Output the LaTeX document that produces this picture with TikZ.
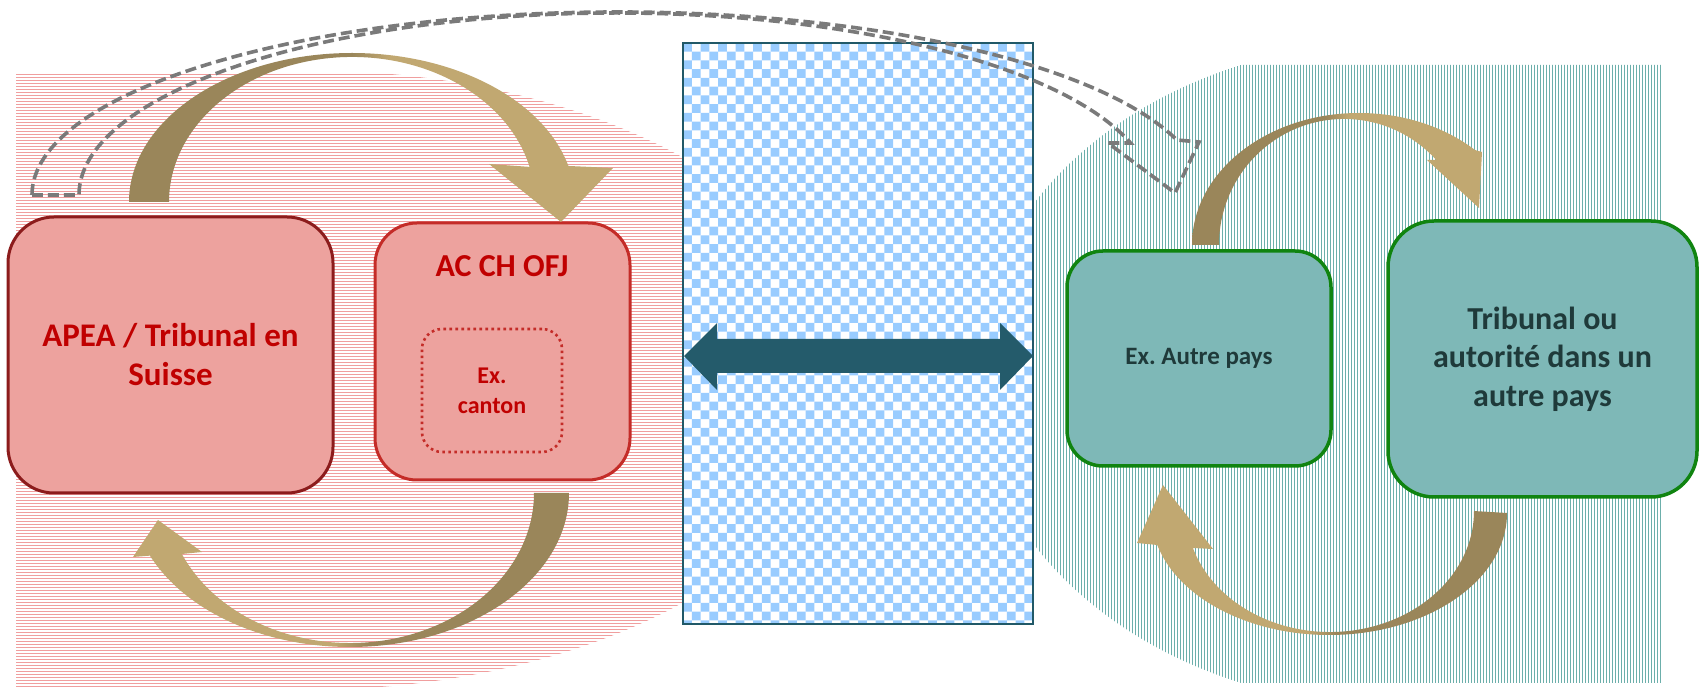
\documentclass[tikz,border=0pt]{standalone}
\usepackage{fontspec}
\setmainfont{Carlito}
\usetikzlibrary{calc}
\frenchspacing
\definecolor{stripeR}{RGB}{240,158,158}
\definecolor{stripeG}{RGB}{108,175,171}
\definecolor{checkblue}{RGB}{153,204,255}
\definecolor{checkborder}{RGB}{33,89,104}
\definecolor{darrow}{RGB}{36,91,107}
\definecolor{pinkfill}{RGB}{237,162,158}
\definecolor{redborderA}{RGB}{140,28,28}
\definecolor{redborderB}{RGB}{196,44,40}
\definecolor{redtxt}{RGB}{192,0,0}
\definecolor{tealfill}{RGB}{126,184,183}
\definecolor{greenborder}{RGB}{16,132,16}
\definecolor{darktxt}{RGB}{31,58,58}
\definecolor{gdark}{RGB}{154,134,90}
\definecolor{glight}{RGB}{193,168,113}
\definecolor{dashgray}{RGB}{122,122,122}
\pgfdeclarehorizontalshading{goldLR}{100bp}{color(0bp)=(gdark); color(48bp)=(gdark); color(52bp)=(glight); color(100bp)=(glight)}
\pgfdeclarehorizontalshading{goldRL}{100bp}{color(0bp)=(glight); color(48bp)=(glight); color(52bp)=(gdark); color(100bp)=(gdark)}
\tikzset{
  redboxA/.style={draw=redborderA, fill=pinkfill, line width=1.5pt, inner sep=0pt},
  redboxB/.style={draw=redborderB, fill=pinkfill, line width=1.5pt, inner sep=0pt},
  dotbox/.style={draw=redborderB, line width=1.3pt, dash pattern=on 1.3pt off 1.7pt, inner sep=0pt},
  greenbox/.style={draw=greenborder, fill=tealfill, line width=1.75pt, inner sep=0pt},
  redlabel/.style={text=redtxt, align=center},
  darklabel/.style={text=darktxt, align=center},
  goldarrowLR/.style={shading=goldLR},
  goldarrowRL/.style={shading=goldRL},
  dashedarrow/.style={draw=dashgray, line width=1.8pt, dash pattern=on 5.5pt off 2.5pt},
}
\begin{document}
\begin{tikzpicture}[x=0.5pt,y=-0.5pt]
\useasboundingbox (0,0) rectangle (1705,689);

% left striped region
\begin{scope}
\clip (16,73) -- (379,73) arc[start angle=-82.1,end angle=82.1,x radius=544,y radius=310] -- (16,687) -- cycle;
\foreach \k in {0,...,205} \draw[stripeR, line width=0.85pt] (10,{74.5+\k*3}) -- (900,{74.5+\k*3});
\end{scope}

% right striped region
\begin{scope}
\clip (1662,65) -- (1241,65) arc[start angle=248.1,end angle=111.9,x radius=426,y radius=333] -- (1662,683) -- cycle;
\foreach \k in {0,...,230} \draw[stripeG, line width=0.75pt] ({973.5+\k*3},60) -- ({973.5+\k*3},690);
\end{scope}

% checker box
\fill[white] (683,43) rectangle (1033,624);
\begin{scope}
\clip (683,43) rectangle (1033,624);
\foreach \j in {0,...,66}{
  \fill[checkblue] \foreach \i in {0,...,20}{ ({683+(2*\i+mod(\j,2))*8.75},{43+\j*8.75}) rectangle ++(8.75,8.75) };
}
\end{scope}
\node[draw=checkborder, line width=1pt, minimum width=175pt, minimum height=290.5pt, inner sep=0pt] (mid) at (858,333.5) {};

% double arrow
\coordinate (dl) at (684,356);
\coordinate (dr) at (1033,356);
\fill[darrow] (dl) -- ++(33,-33) -- ++(0,16) -- ($(dr)+(-33,-17)$) -- ++(0,-16) -- (dr) -- ++(-33,34) -- ++(0,-17) -- ($(dl)+(33,17)$) -- ++(0,17) -- cycle;

% boxes
\node[redboxA, rounded corners=23pt, minimum width=162.5pt, minimum height=138pt, redlabel, font=\bfseries\fontsize{16.5}{19.5}\selectfont] (apea) at (170.5,355) {APEA / Tribunal en\\Suisse};
\node[redboxB, rounded corners=21pt, minimum width=127.5pt, minimum height=128.5pt] (ac) at (502.5,351.5) {};
\node[redlabel, font=\bfseries\fontsize{16}{19}\selectfont] (act) at (502,266) {AC CH OFJ};
\node[dotbox, rounded corners=10pt, minimum width=70pt, minimum height=61.5pt, redlabel, font=\bfseries\fontsize{12}{15}\selectfont] (canton) at (492,390.5) {Ex.\\canton};
\node[greenbox, rounded corners=18pt, minimum width=132pt, minimum height=107.5pt, darklabel, font=\bfseries\fontsize{12.5}{15}\selectfont] (autre) at (1199,358.5) {Ex. Autre pays};
\node[greenbox, rounded corners=23pt, minimum width=154.5pt, minimum height=138pt, darklabel, font=\bfseries\fontsize{16}{19.3}\selectfont] (trib) at (1542.5,359) {Tribunal ou\\autorité dans un\\autre pays};

% gold curved arrows
\shade[goldarrowLR] (129,202) arc[start angle=180,end angle=346,x radius=223,y radius=149]
  -- (613,168) -- (561,222) -- (489,164) -- (529.6,166.9)
  arc[start angle=346,end angle=180,x radius=183,y radius=145] -- cycle;
\shade[goldarrowRL] (569,493) arc[start angle=0,end angle=156,x radius=219,y radius=154]
  -- (133,557) -- (158,520) -- (202,552) -- (181.9,554)
  arc[start angle=156,end angle=0,x radius=184,y radius=150] -- cycle;
\shade[goldarrowLR] (1192,245) arc[start angle=180,end angle=314,x radius=167,y radius=132]
  -- (1482,152) -- (1479,208) -- (1427,160) -- (1436.3,160)
  arc[start angle=317.6,end angle=180,x radius=125,y radius=126] -- cycle;
\shade[goldarrowRL] (1507,513) arc[start angle=0,end angle=164.8,x radius=178,y radius=122]
  -- (1137,543) -- (1163,485) -- (1213,549) -- (1192.9,548)
  arc[start angle=162.2,end angle=0,x radius=144,y radius=121] -- cycle;

% dashed curved outline arrow
\draw[dashedarrow] (32,195) arc[start angle=180,end angle=342.5,x radius=586,y radius=183]
  -- (1199,142) -- (1175,193) -- (1108,143) -- (1130.6,143)
  arc[start angle=343.4,end angle=180,x radius=537,y radius=182] -- cycle;
\end{tikzpicture}
\end{document}
